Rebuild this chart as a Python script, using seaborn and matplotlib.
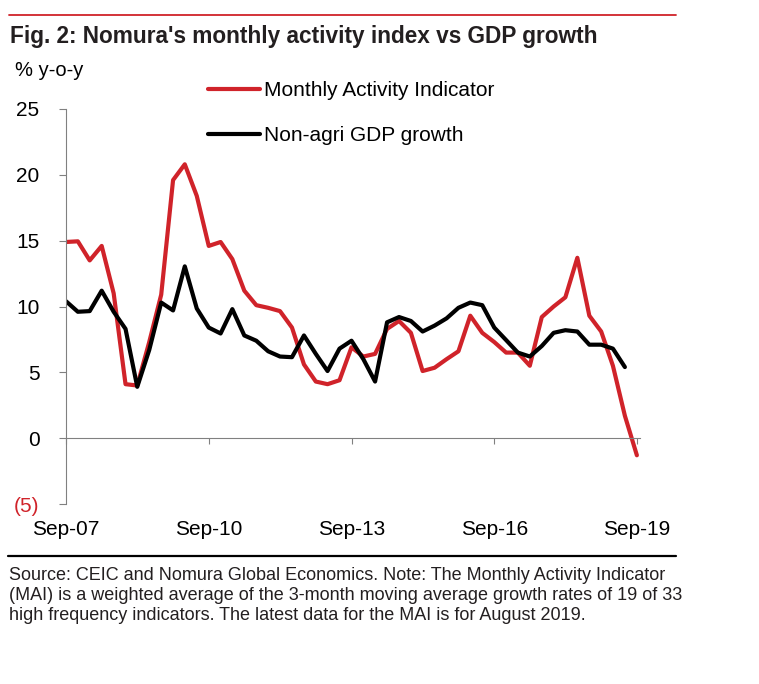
import matplotlib
matplotlib.use('Agg')
import matplotlib.pyplot as plt
import matplotlib.dates as mdates
from matplotlib.lines import Line2D
import pandas as pd
import numpy as np
import seaborn as sns

# quarterly points, Sep-07 .. Sep-19
mai = [14.9, 14.95, 13.5, 14.6, 11.0, 4.1, 4.0, 7.3, 10.9, 19.6, 20.8, 18.4,
       14.6, 14.9, 13.6, 11.2, 10.1, 9.9, 9.65, 8.4, 5.6, 4.3, 4.1, 4.4,
       6.9, 6.2, 6.4, 8.3, 8.9, 8.0, 5.1, 5.35, 6.0, 6.6, 9.3, 8.0,
       7.3, 6.5, 6.5, 5.5, 9.2, 10.0, 10.7, 13.7, 9.3, 8.1, 5.5, 1.7, -1.3]
gdp = [10.4, 9.6, 9.65, 11.2, 9.6, 8.3, 3.9, 6.7, 10.3, 9.7, 13.05, 9.85,
       8.4, 7.95, 9.8, 7.8, 7.4, 6.6, 6.2, 6.15, 7.8, 6.4, 5.1, 6.8,
       7.4, 6.0, 4.3, 8.8, 9.2, 8.9, 8.1, 8.55, 9.1, 9.9, 10.3, 10.1,
       8.4, 7.45, 6.5, 6.2, 7.0, 8.0, 8.2, 8.1, 7.1, 7.1, 6.8, 5.4]
series_names = ['Monthly Activity Indicator', 'Non-agri GDP growth']
yticks = [-5, 0, 5, 10, 15, 20, 25]
ytick_labels = ['(5)', '0', '5', '10', '15', '20', '25']
xtick_years = [2007, 2010, 2013, 2016, 2019]

RED = '#d0232a'
GREY = '#808080'

dates = pd.date_range('2007-09-01', periods=len(mai), freq='3MS')
df = pd.concat([
    pd.DataFrame({'date': dates, 'value': mai, 'series': series_names[0]}),
    pd.DataFrame({'date': dates[:len(gdp)], 'value': gdp, 'series': series_names[1]}),
])

sns.set_style('white')
plt.rcParams['font.family'] = ['Liberation Sans', 'DejaVu Sans']

fig = plt.figure(figsize=(7.59, 6.84), dpi=100)
ax = fig.add_axes([66/759, 1-504/684, (640-66)/759, (504-109)/684])

sns.lineplot(data=df, x='date', y='value', hue='series', hue_order=series_names,
             palette={series_names[0]: RED, series_names[1]: 'black'},
             linewidth=3, ax=ax)
handles, labels = ax.get_legend_handles_labels()
ax.get_legend().remove()

ax.set_ylim(-5, 25)
ax.set_xlim(pd.Timestamp('2007-09-01'), pd.Timestamp('2019-09-25'))
ax.set_yticks(yticks)
ax.set_yticklabels(ytick_labels)
for lab in ax.get_yticklabels():
    if lab.get_text().startswith('('):
        lab.set_color(RED)
ax.set_xticks([pd.Timestamp(f'{y}-09-01') for y in xtick_years])
ax.xaxis.set_major_formatter(mdates.DateFormatter('%b-%y'))
ax.set_xlabel('')
ax.set_ylabel('')

for s in ['top', 'right']:
    ax.spines[s].set_visible(False)
ax.spines['left'].set_color(GREY)
ax.spines['bottom'].set_color(GREY)
ax.spines['bottom'].set_position(('data', 0))
ax.tick_params(axis='y', direction='out', length=5, color=GREY, labelsize=15, pad=14, left=True)
ax.tick_params(axis='x', direction='out', length=4, color=GREY, labelsize=15, pad=55,
               bottom=True, labelcolor='black')
for lab in ax.get_yticklabels():
    if not lab.get_text().startswith('('):
        lab.set_color('black')

leg = fig.legend(handles, labels, loc='upper left', bbox_to_anchor=(208/759, 1-81/684),
                 frameon=False, fontsize=15, handlelength=2.5, handletextpad=0.2,
                 labelspacing=1.25, borderpad=0, borderaxespad=0)
for h in leg.get_lines():
    h.set_linewidth(3)
for t in leg.get_texts():
    t.set_color('black')

# header / footer
fig.add_artist(Line2D([9/759, 676/759], [1-15/684, 1-15/684], color=RED, lw=1.3))
fig.text(10/759, 1-37/684, "Fig. 2: Nomura's monthly activity index vs GDP growth",
         fontsize=16.3, weight='bold', va='center', color='#231f20')
fig.text(15/759, 1-70/684, '% y-o-y', fontsize=14.5, va='center', color='black')
fig.add_artist(Line2D([8/759, 676/759], [1-556/684, 1-556/684], color='black', lw=1.6))
fig.text(9/759, 1-567/684,
         'Source: CEIC and Nomura Global Economics. Note: The Monthly Activity Indicator\n'
         '(MAI) is a weighted average of the 3-month moving average growth rates of 19 of 33\n'
         'high frequency indicators. The latest data for the MAI is for August 2019.',
         fontsize=13, va='top', linespacing=1.25, color='#231f20')

fig.savefig('out.png', dpi=100)
